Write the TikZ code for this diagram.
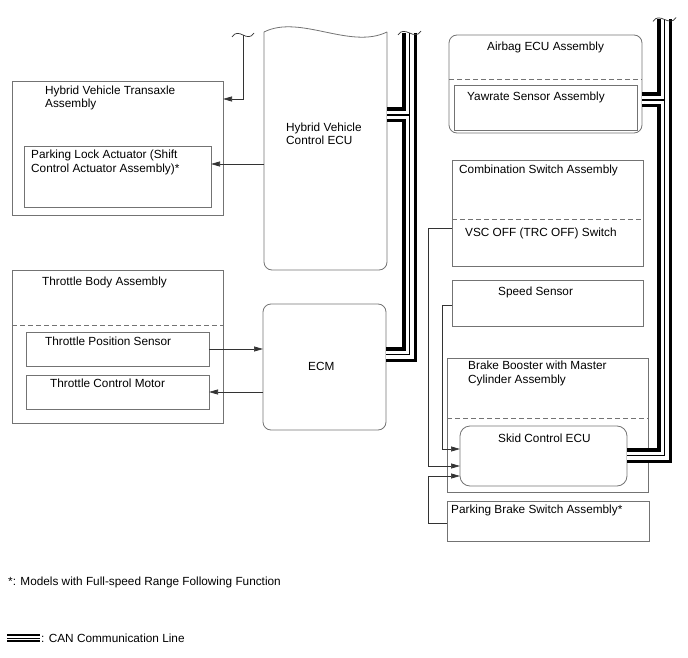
\documentclass[tikz,border=0pt]{standalone}
\usepackage{fontspec}
\setmainfont{Liberation Sans}
\usetikzlibrary{arrows.meta}
\begin{document}
\begin{tikzpicture}[x=1pt,y=-1pt,
  box/.style={draw=black!55, line width=0.8pt, inner sep=0pt, outer sep=0pt, anchor=north west},
  rbox/.style={box, rounded corners=8pt},
  ghost/.style={inner sep=0pt, outer sep=0pt, anchor=north west},
  lbl/.style={anchor=base west, inner sep=0pt, font=\fontsize{11.8}{13.5}\selectfont},
  conn/.style={draw=black!80, line width=0.7pt},
  arr/.style={conn, -{Triangle[length=9pt,width=5pt]}},
  dline/.style={draw=black!55, line width=0.7pt, dash pattern=on 5pt off 3pt},
  outline/.style={draw=black!55, line width=0.8pt},
]
\useasboundingbox (0,0) rectangle (688,658);

% ---------- boxes ----------
\node[box, minimum width=211pt, minimum height=134pt] (hvt) at (12,81) {};
\node[box, minimum width=187pt, minimum height=61pt] (pla) at (24,146) {};
\node[box, minimum width=211pt, minimum height=153pt] (tba) at (12,270) {};
\node[box, minimum width=183pt, minimum height=34pt] (tps) at (26,332) {};
\node[box, minimum width=183pt, minimum height=34pt] (tcm) at (26,375) {};
\node[rbox, minimum width=123pt, minimum height=126pt] (ecm) at (263,304) {};
\node[ghost, minimum width=123pt, minimum height=238pt] (hvecu) at (264,32) {};
\node[rbox, minimum width=193pt, minimum height=98pt] (airbag) at (449,35) {};
\node[box, minimum width=183pt, minimum height=45pt] (yaw) at (454,85) {};
\node[box, minimum width=191pt, minimum height=106pt] (comb) at (452,160) {};
\node[box, minimum width=191pt, minimum height=46pt] (speed) at (452,280) {};
\node[box, minimum width=201pt, minimum height=134pt] (brake) at (447,358) {};
\node[rbox, rounded corners=10pt, minimum width=167pt, minimum height=60pt] (skid) at (460,426) {};
\node[box, minimum width=202pt, minimum height=40pt] (pbs) at (447,501) {};

% HV ECU shape with wavy top
\draw[outline] (264,32) .. controls (300,14) and (350,50) .. (387,32);
\draw[outline, rounded corners=8pt] (264,32) -- (264,270) -- (387,270) -- (387,32);

% dashed separators
\coordinate (d1) at (0,325);
\draw[dline] (tba.west |- d1) -- (tba.east |- d1);
\coordinate (d2) at (0,79);
\draw[dline] (airbag.west |- d2) -- (airbag.east |- d2);
\coordinate (d3) at (0,219);
\draw[dline] (comb.west |- d3) -- (comb.east |- d3);
\coordinate (d4) at (0,418);
\draw[dline] (brake.west |- d4) -- (brake.east |- d4);

% ---------- texts ----------
\node[lbl] (thvt1) at (45,94.5) {Hybrid Vehicle Transaxle};
\node[lbl] (thvt2) at (45,108) {Assembly};
\node[lbl] (tpla1) at (31,158.5) {Parking Lock Actuator (Shift};
\node[lbl] (tpla2) at (31,172) {Control Actuator Assembly)*};
\node[lbl] (thv1) at (286,131.5) {Hybrid Vehicle};
\node[lbl] (thv2) at (286,145) {Control ECU};
\node[lbl] (ttba) at (42,285.5) {Throttle Body Assembly};
\node[lbl] (ttps) at (45,345.5) {Throttle Position Sensor};
\node[lbl] (ttcm) at (50,387.5) {Throttle Control Motor};
\node[lbl] (tecm) at (308,370.5) {ECM};
\node[lbl] (tair) at (487,50.5) {Airbag ECU Assembly};
\node[lbl] (tyaw) at (467,100.5) {Yawrate Sensor Assembly};
\node[lbl] (tcomb) at (459,173.5) {Combination Switch Assembly};
\node[lbl] (tvsc) at (465,236.5) {VSC OFF (TRC OFF) Switch};
\node[lbl] (tspd) at (498,295.5) {Speed Sensor};
\node[lbl] (tbb1) at (468,369.5) {Brake Booster with Master};
\node[lbl] (tbb2) at (468,383) {Cylinder Assembly};
\node[lbl] (tskid) at (498,442.5) {Skid Control ECU};
\node[lbl] (tpbs) at (451,513.5) {Parking Brake Switch Assembly*};
\node[lbl] (tnote) at (8,585.5) {*: Models with Full-speed Range Following Function};
\node[lbl] (tleg) at (41,642.5) {: CAN Communication Line};

% ---------- connectors ----------
\coordinate (wtop) at (243,35);
\coordinate (wbend) at (243,99);
\draw[conn] (232,37) .. controls (235,32) and (239,33) .. (wtop) .. controls (247,37) and (251,38) .. (254,33);
\draw[arr] (wtop) -- (wbend) -- (wbend -| hvt.east);

\coordinate (plaY) at (0,164);
\draw[arr] (hvecu.west |- plaY) -- (pla.east |- plaY);

\draw[arr] (tps.east) -- (tps.east -| ecm.west);
\draw[arr] (tcm.east -| ecm.west) -- (tcm.east);

\draw[arr] ([yshift=-2pt]speed.west) -- ++(-10,0) |- ([yshift=7pt]skid.west);
\draw[arr] ([yshift=-15pt]comb.west) -- ++(-24,0) |- ([yshift=-10pt]skid.west);
\draw[arr] ([yshift=-2pt]pbs.west) -- ++(-19,0) |- ([yshift=-20pt]skid.west);

% ---------- CAN buses ----------
\coordinate (lbtop) at (409.5,33);
\coordinate (lbcorner) at (409.5,354.5);
\coordinate (lbbr) at (409.5,115);
\coordinate (rbtop) at (664.5,19.5);
\coordinate (rbcorner) at (664.5,455.5);
\coordinate (rbbr) at (664.5,100);
\foreach \lw/\lc in {15/black, 8/white, 1.5/black}{
  \draw[line width=\lw pt, \lc] (lbtop) -- (lbcorner) -- (lbcorner -| ecm.east);
  \draw[line width=\lw pt, \lc] (lbbr) -- (lbbr -| hvecu.east);
  \draw[line width=\lw pt, \lc] (rbtop) -- (rbcorner) -- (rbcorner -| skid.east);
  \draw[line width=\lw pt, \lc] (rbbr) -- (rbbr -| airbag.east);
}
\draw[conn] (398,35) .. controls (401,30) and (405,31) .. (lbtop) .. controls (414,35) and (418,36) .. (421,31);
\draw[conn] (653,21.5) .. controls (656,16.5) and (660,17.5) .. (rbtop) .. controls (669,21.5) and (673,22.5) .. (676,17.5);

% legend line
\coordinate (lg1) at (7,638);
\coordinate (lg2) at (40,638);
\foreach \lw/\lc in {7.4/black, 3.4/white, 1/black}{
  \draw[line width=\lw pt, \lc] (lg1) -- (lg2);
}
\end{tikzpicture}
\end{document}
